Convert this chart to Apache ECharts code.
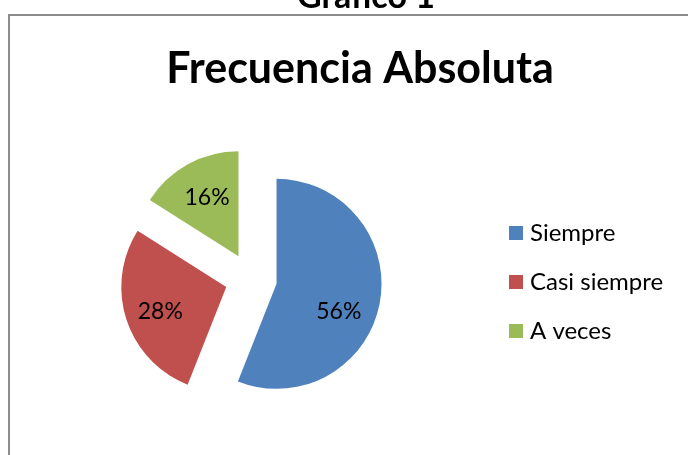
<!DOCTYPE html>
<html>
<head>
<meta charset="utf-8">
<script src="https://cdn.jsdelivr.net/npm/echarts@6/dist/echarts.min.js"></script>
<style>
  html, body { margin: 0; padding: 0; background: #fff; }
  #main { width: 688px; height: 455px; }
</style>
</head>
<body>
<div id="main"></div>
<script>
var categorias = ['Siempre', 'Casi siempre', 'A veces'];
var valores = [56, 28, 16];
var colores = ['#4f81bd', '#c0504d', '#9bbb59'];
// pequeños ajustes de las etiquetas (px)
var ajusteEtiqueta = [[-8, 14], [2, 2], [3, 4]];

var fuente = 'Lato';
var total = valores.reduce(function (a, b) { return a + b; }, 0);

// empujar cada etiqueta hacia fuera, como hace Excel
function moverEtiqueta(params) {
    var acum = 0;
    for (var i = 0; i < params.dataIndex; i++) acum += valores[i];
    var mitad = (acum + valores[params.dataIndex] / 2) / total * Math.PI * 2;
    var extra = 16;
    var aj = ajusteEtiqueta[params.dataIndex];
    return { dx: Math.sin(mitad) * extra + aj[0], dy: -Math.cos(mitad) * extra + aj[1] };
}

var datos = categorias.map(function (c, i) {
    return { name: c, value: valores[i], selected: true, itemStyle: { color: colores[i] } };
});

var myChart = echarts.init(document.getElementById('main'));
var option = {
    animation: false,
    title: [{
        text: 'Grafico 1',
        left: 361, textAlign: 'center',
        top: -25,
        textStyle: { fontFamily: fuente, fontWeight: 'bold', fontSize: 34, color: '#000' }
    }, {
        text: 'Frecuencia Absoluta',
        left: 355, textAlign: 'center',
        top: 43,
        textStyle: { fontFamily: fuente, fontWeight: 'bold', fontSize: 43, color: '#000' }
    }],
    graphic: [{
        type: 'rect',
        shape: { x: 9, y: 15, width: 700, height: 460 },
        style: { fill: 'none', stroke: '#8c8c8c', lineWidth: 2 }
    }],
    legend: {
        orient: 'vertical',
        left: 504, top: 216,
        itemWidth: 14, itemHeight: 14,
        itemGap: 25,
        icon: 'rect',
        selectedMode: false,
        textStyle: { fontFamily: fuente, fontSize: 24, color: '#000', padding: [0, 0, 0, 2] },
        data: categorias
    },
    series: [{
        type: 'pie',
        center: [251, 279],
        radius: 105,
        startAngle: 90,
        clockwise: true,
        selectedMode: 'multiple',
        selectedOffset: 26,
        emphasis: { disabled: true },
        label: {
            show: true,
            position: 'inside',
            formatter: '{d}%',
            fontFamily: fuente,
            fontSize: 23,
            color: '#000'
        },
        labelLayout: moverEtiqueta,
        labelLine: { show: false },
        data: datos
    }]
};
myChart.setOption(option);
</script>
</body>
</html>
